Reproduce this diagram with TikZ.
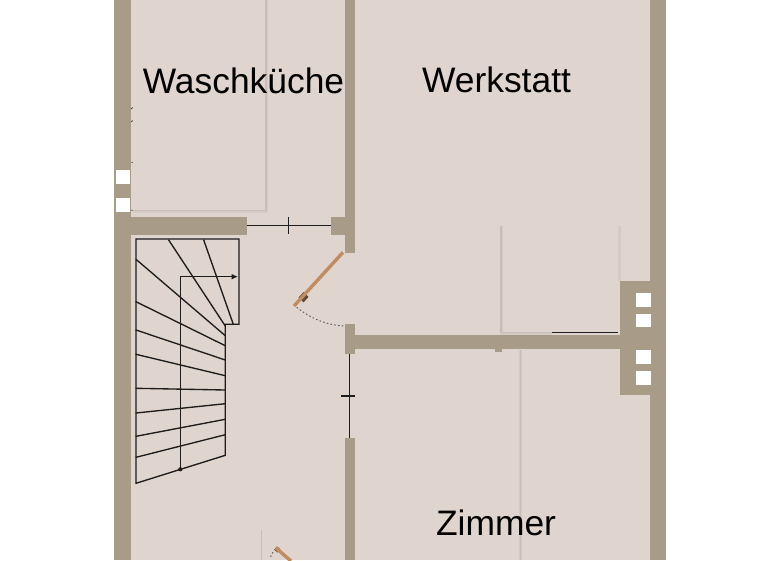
\documentclass[tikz,border=0pt]{standalone}
\usepackage{fontspec}
\setmainfont{Liberation Sans}
\usetikzlibrary{arrows.meta}
\definecolor{wallc}{HTML}{A89C88}
\definecolor{floorc}{HTML}{E0D5CE}
\definecolor{shadec}{HTML}{C9BEB7}
\definecolor{softc}{HTML}{D6CBC4}
\definecolor{woodc}{HTML}{C08C62}
\definecolor{inkc}{HTML}{1E1C1C}
\tikzset{
  wall/.style={fill=wallc,draw=none},
  win/.style={fill=white,draw=none},
  room/.style={font=\fontsize{35.4}{37}\selectfont,text=black,inner sep=0pt,anchor=base},
  stair/.style={draw=inkc,line width=1.35pt,line cap=round,line join=miter},
  doorline/.style={draw=inkc,line width=1.25pt},
  edgesoft/.style={draw=softc,line width=3pt},
  edgeshade/.style={draw=shadec,line width=1.5pt},
  swing/.style={draw=black!65,line width=0.9pt,dash pattern=on 1.6pt off 2.2pt},
  leaf/.style={draw=woodc,line width=3.4pt}
}
\begin{document}
\begin{tikzpicture}[x=1pt,y=-1pt]
\useasboundingbox (0,0) rectangle (768,560);
\fill[white] (0,0) rectangle (768,560);
\fill[floorc] (114,0) rectangle (666,560);
% panel shadows
\draw[edgesoft] (266.5,0) -- (266.5,211) -- (133,211);
\draw[edgeshade] (266,0) -- (266,210.5) -- (133,210.5);
\draw[edgesoft] (501,226) -- (501,333) -- (552,333);
\draw[edgeshade] (501,226) -- (501,332.5) -- (552,332.5);
\draw[edgesoft] (619.5,226) -- (619.5,281);
\draw[edgesoft] (520.5,350) -- (520.5,560);
\draw[edgeshade,line width=1pt] (520.5,350) -- (520.5,560);
\draw[draw=shadec,line width=1pt] (261,530) -- (261,560);
% walls
\fill[wall] (114,0) rectangle (131,560);
\fill[wall] (650,0) rectangle (666,560);
\fill[wall] (345,0) rectangle (354.5,253);
\fill[wall] (131,217) rectangle (247,234.5);
\fill[wall] (330.5,217) rectangle (354.5,234.5);
\fill[wall] (345,324) rectangle (354.5,354);
\fill[wall] (354.5,334.5) rectangle (650,349);
\fill[wall] (620,281) rectangle (650,395);
\fill[wall] (345,438) rectangle (354.5,560);
\fill[wall] (495,349) rectangle (502,351.5);
% windows
\fill[win] (116,170) rectangle (130,184);
\fill[win] (116,198) rectangle (130,212);
\fill[win] (636,293) rectangle (651,307);
\fill[win] (636,314) rectangle (651,327);
\fill[win] (636,350) rectangle (651,364);
\fill[win] (636,371) rectangle (651,385);
% specks
\draw[inkc,line width=0.8pt] (131.5,109) -- (132.5,107.5) (131.5,122) -- (132.5,120.5) (131.5,162.5) -- (132.5,162.5) (131.5,210) -- (132.5,210.5);
\draw[inkc,line width=1pt] (552,332) -- (618,332);
% door lines
\coordinate (dA) at (247,225.5); \coordinate (dB) at (330.5,225.5);
\draw[doorline] (dA) -- (dB);
\draw[doorline] (288.5,216.5) -- (288.5,234);
\coordinate (dC) at (349.5,354); \coordinate (dD) at (349.5,438);
\draw[doorline] (dC) -- (dD);
\draw[doorline] (341,396) -- (355,396);
% stairs
\draw[stair] (136,239) -- (239,239) -- (239,324.3) -- (225.3,324.3) -- (225.3,455.3) -- (136,483.3) -- cycle;
\draw[stair] (168.7,240) -- (225.3,326);
\draw[stair] (203.7,240) -- (233.3,324.3);
\draw[stair] (136,259.3) -- (225.3,335.7);
\draw[stair] (136,301.7) -- (225.3,345.7);
\draw[stair] (136,330) -- (225.3,360);
\draw[stair] (136,354.3) -- (225.3,375.7);
\draw[stair] (136,388.3) -- (225.3,390);
\draw[stair] (136,413) -- (225.3,403.7);
\draw[stair] (136,436.3) -- (225.3,419.3);
\draw[stair] (136,457.3) -- (225.3,434.7);
\draw[stair,-{Latex[length=6.5pt,width=6pt]}] (180.3,469.3) -- (180.3,276.7) -- (238,276.7);
\fill[inkc] (180.3,469.3) circle (2.1pt);
% door leaves
\draw[swing] (296.7,307.3) .. controls (310,318) and (326,325) .. (344,326);
\draw[inkc!60!woodc,line width=7pt] (301,300) -- (306,294.5);
\draw[leaf] (343,252.3) -- (294,306);
\draw[inkc!40!woodc,line width=4.5pt] (275.5,548) -- (279,551);
\draw[leaf] (276,548) -- (291,561);
\draw[swing] (273,552) -- (270,558);
% labels
\node[room] (wk) at (243.5,93) {Waschküche};
\node[room] (ws) at (496.5,92) {Werkstatt};
\node[room] (zi) at (496,535) {Zimmer};
\end{tikzpicture}
\end{document}
